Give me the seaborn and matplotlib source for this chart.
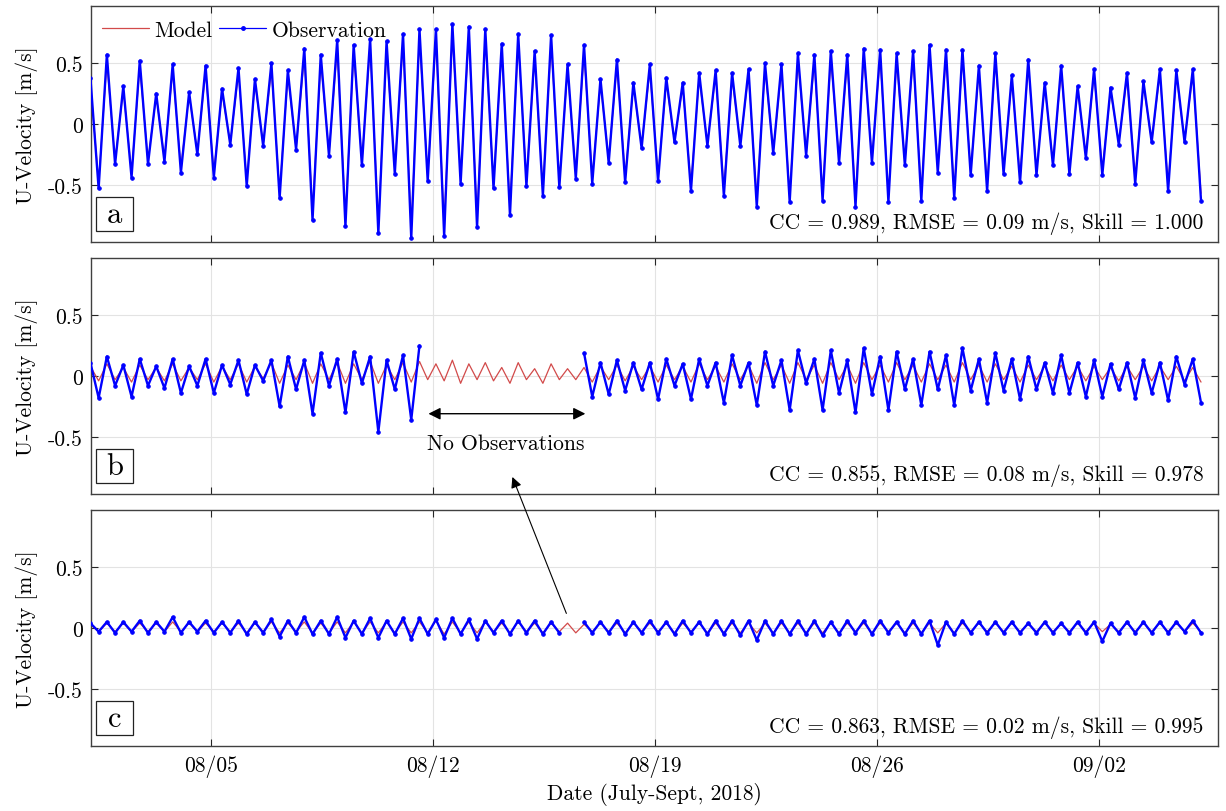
import matplotlib
matplotlib.use('Agg')
import numpy as np
import pandas as pd
import seaborn as sns
import matplotlib.pyplot as plt
import matplotlib.dates as mdates
from matplotlib.lines import Line2D
from matplotlib.patches import Rectangle

# tidal extrema, one value per half tide
# (even index = flood peak, odd index = ebb trough), NaN = no data
t_first = "2018-08-01 04:33"
t_last = "2018-09-05 05:03"
x_start = "2018-08-01 05:00"
x_end = "2018-09-05 17:54"

a_obs = [0.38,
         -0.53, 0.57, -0.33, 0.31, -0.44, 0.52, -0.33, 0.25, -0.31, 0.49,
         -0.40, 0.26, -0.25, 0.48, -0.44, 0.29, -0.17, 0.46, -0.51, 0.37,
         -0.18, 0.50, -0.61, 0.44, -0.21, 0.62, -0.79, 0.57, -0.26, 0.69,
         -0.84, 0.65, -0.34, 0.70,
         -0.90, 0.68, -0.41, 0.74, -0.94, 0.78, -0.47, 0.78, -0.92, 0.82,
         -0.49, 0.80, -0.85, 0.78, -0.53, 0.66, -0.75, 0.74, -0.51, 0.60,
         -0.59, 0.73, -0.52, 0.49, -0.45, 0.65, -0.49, 0.37, -0.32, 0.53,
         -0.48, 0.34, -0.20, 0.49,
         -0.47, 0.38, -0.15, 0.34, -0.55, 0.42, -0.18, 0.44, -0.59, 0.42,
         -0.18, 0.45, -0.68, 0.50, -0.24, 0.49, -0.64, 0.58, -0.26, 0.57,
         -0.63, 0.60, -0.32, 0.57, -0.68, 0.62, -0.32, 0.61, -0.64, 0.58,
         -0.34, 0.60, -0.63, 0.65,
         -0.40, 0.61, -0.61, 0.61, -0.42, 0.48, -0.55, 0.58, -0.41, 0.40,
         -0.48, 0.53, -0.42, 0.34, -0.34, 0.48, -0.41, 0.31, -0.28, 0.45,
         -0.42, 0.30, -0.17, 0.42, -0.49, 0.35, -0.15, 0.45, -0.55, 0.44,
         -0.15, 0.45, -0.63]

a_model = [0.34,
           -0.48, 0.51, -0.30, 0.28, -0.40, 0.47, -0.30, 0.23, -0.28, 0.44,
           -0.36, 0.24, -0.23, 0.43, -0.40, 0.26, -0.16, 0.42, -0.47, 0.34,
           -0.17, 0.45, -0.56, 0.40, -0.20, 0.56, -0.72, 0.52, -0.24, 0.62,
           -0.76, 0.59, -0.31, 0.63,
           -0.81, 0.61, -0.37, 0.67, -0.85, 0.70, -0.43, 0.70, -0.83, 0.74,
           -0.44, 0.72, -0.77, 0.70, -0.48, 0.60, -0.68, 0.67, -0.46, 0.54,
           -0.53, 0.66, -0.47, 0.44, -0.41, 0.59, -0.44, 0.33, -0.29, 0.48,
           -0.43, 0.31, -0.18, 0.44,
           -0.43, 0.34, -0.14, 0.31, -0.50, 0.38, -0.16, 0.40, -0.53, 0.38,
           -0.16, 0.41, -0.61, 0.45, -0.22, 0.44, -0.58, 0.52, -0.23, 0.51,
           -0.57, 0.54, -0.29, 0.51, -0.61, 0.56, -0.29, 0.55, -0.58, 0.52,
           -0.31, 0.54, -0.57, 0.59,
           -0.36, 0.55, -0.55, 0.55, -0.38, 0.43, -0.50, 0.52, -0.37, 0.36,
           -0.43, 0.48, -0.38, 0.31, -0.31, 0.43, -0.37, 0.28, -0.25, 0.41,
           -0.38, 0.27, -0.15, 0.38, -0.44, 0.32, -0.14, 0.41, -0.50, 0.40,
           -0.14, 0.41, -0.57]

nan = np.nan
b_obs = [0.11, -0.18, 0.16, -0.08, 0.09, -0.17, 0.14, -0.08, 0.08, -0.10,
         0.14, -0.14, 0.08, -0.08, 0.14, -0.14, 0.09, -0.07, 0.13, -0.15,
         0.09, -0.04, 0.13, -0.25, 0.16, -0.11, 0.13, -0.31, 0.19, -0.08,
         0.14, -0.30, 0.20, -0.06, 0.16, -0.46, 0.13, -0.11, 0.17, -0.36,
         0.25, nan, nan, nan, nan, nan, nan, nan, nan, nan,
         nan, nan, nan, nan, nan, nan, nan, nan, nan, nan,
         0.19, -0.17, 0.11, -0.15, 0.13, -0.12, 0.11, -0.11, 0.11, -0.19,
         0.14, -0.08, 0.10, -0.19, 0.14, -0.08, 0.11, -0.22, 0.17, -0.08,
         0.11, -0.24, 0.20, -0.08, 0.13, -0.28, 0.21, -0.06, 0.14, -0.28,
         0.21, -0.14, 0.13, -0.30, 0.23, -0.15, 0.16, -0.28, 0.20, -0.11,
         0.14, -0.24, 0.20, -0.11, 0.17, -0.24, 0.23, -0.12, 0.14, -0.22,
         0.19, -0.12, 0.14, -0.19, 0.16, -0.11, 0.11, -0.14, 0.17, -0.14,
         0.11, -0.17, 0.13, -0.17, 0.10, -0.11, 0.11, -0.18, 0.13, -0.14,
         0.11, -0.20, 0.16, -0.07, 0.14, -0.22]

b_model = [0.08, -0.04, 0.10, -0.03, 0.07, -0.05, 0.09, -0.03, 0.07, -0.04,
           0.10, -0.04, 0.07, -0.03, 0.10, -0.05, 0.08, -0.03, 0.10, -0.05,
           0.08, -0.02, 0.11, -0.06, 0.09, -0.03, 0.11, -0.06, 0.10, -0.03,
           0.11, -0.06, 0.10, -0.03, 0.12, -0.06, 0.09, -0.03, 0.11, -0.05,
           0.12, -0.03, 0.10, -0.04, 0.13, -0.06, 0.10, -0.03, 0.11, -0.04,
           0.07, -0.06, 0.11, -0.03, 0.06, -0.06, 0.10, -0.03, 0.06, -0.03,
           0.07, -0.05, 0.08, -0.03, 0.09, -0.04, 0.08, -0.03, 0.08, -0.05,
           0.09, -0.03, 0.08, -0.05, 0.10, -0.03, 0.08, -0.05, 0.10, -0.03,
           0.09, -0.06, 0.11, -0.03, 0.09, -0.06, 0.11, -0.03, 0.09, -0.06,
           0.11, -0.03, 0.09, -0.06, 0.11, -0.03, 0.09, -0.05, 0.11, -0.03,
           0.09, -0.05, 0.10, -0.03, 0.09, -0.05, 0.11, -0.03, 0.09, -0.05,
           0.10, -0.03, 0.08, -0.05, 0.09, -0.03, 0.08, -0.04, 0.09, -0.03,
           0.08, -0.04, 0.08, -0.03, 0.07, -0.04, 0.08, -0.03, 0.08, -0.04,
           0.08, -0.03, 0.08, -0.04, 0.07, -0.05]

c_obs = [0.04, -0.03, 0.05, -0.04, 0.05, -0.03, 0.06, -0.04, 0.05, -0.03,
         0.09, -0.04, 0.05, -0.03, 0.06, -0.04, 0.05, -0.04, 0.06, -0.05,
         0.05, -0.04, 0.07, -0.07, 0.06, -0.04, 0.09, -0.05, 0.06, -0.05,
         0.09, -0.08, 0.06, -0.05, 0.08, -0.08, 0.06, -0.05, 0.08, -0.09,
         0.08, -0.05, 0.07, -0.08, 0.08, -0.05, 0.07, -0.09, 0.06, -0.04,
         0.06, -0.05, 0.06, -0.04, 0.06, -0.05, 0.05, -0.04, nan, nan,
         0.05, -0.04, 0.05, -0.04, 0.06, -0.05, 0.05, -0.04, 0.06, -0.04,
         0.05, -0.05, 0.06, -0.04, 0.05, -0.05, 0.06, -0.05, 0.06, -0.06,
         0.06, -0.10, 0.06, -0.05, 0.06, -0.05, 0.06, -0.05, 0.06, -0.06,
         0.05, -0.05, 0.06, -0.04, 0.06, -0.05, 0.06, -0.04, 0.05, -0.05,
         0.06, -0.05, 0.06, -0.14, 0.05, -0.05, 0.06, -0.04, 0.05, -0.04,
         0.05, -0.04, 0.05, -0.04, 0.04, -0.04, 0.05, -0.04, 0.04, -0.04,
         0.05, -0.04, 0.05, -0.11, 0.04, -0.04, 0.05, -0.04, 0.05, -0.04,
         0.05, -0.04, 0.05, -0.03, 0.06, -0.04]

c_model = [0.03, -0.03, 0.04, -0.03, 0.04, -0.03, 0.04, -0.03, 0.04, -0.03,
           0.05, -0.03, 0.04, -0.03, 0.04, -0.03, 0.04, -0.03, 0.04, -0.04,
           0.04, -0.03, 0.05, -0.04, 0.04, -0.03, 0.05, -0.04, 0.04, -0.04,
           0.05, -0.04, 0.05, -0.04, 0.05, -0.04, 0.05, -0.04, 0.05, -0.04,
           0.05, -0.04, 0.06, -0.05, 0.05, -0.04, 0.05, -0.04, 0.05, -0.03,
           0.04, -0.04, 0.05, -0.03, 0.04, -0.04, 0.04, -0.03, 0.04, -0.04,
           0.03, -0.03, 0.04, -0.03, 0.04, -0.04, 0.04, -0.03, 0.04, -0.03,
           0.04, -0.04, 0.04, -0.03, 0.04, -0.04, 0.04, -0.04, 0.04, -0.04,
           0.04, -0.04, 0.04, -0.04, 0.04, -0.04, 0.04, -0.04, 0.04, -0.04,
           0.04, -0.04, 0.04, -0.03, 0.04, -0.04, 0.04, -0.03, 0.04, -0.04,
           0.04, -0.04, 0.04, -0.04, 0.04, -0.04, 0.04, -0.03, 0.04, -0.03,
           0.04, -0.03, 0.04, -0.03, 0.03, -0.03, 0.04, -0.03, 0.03, -0.03,
           0.04, -0.03, 0.04, -0.03, 0.03, -0.03, 0.04, -0.03, 0.04, -0.03,
           0.04, -0.03, 0.04, -0.03, 0.04, -0.03]

date_ticks = ["2018-08-05", "2018-08-12", "2018-08-19", "2018-08-26", "2018-09-02"]
date_labels = ["08/05", "08/12", "08/19", "08/26", "09/02"]
u_ticks = [-0.5, 0, 0.5]
u_labels = ["-0.5", "0", "0.5"]
stats = ["CC = 0.989, RMSE = 0.09 m/s, Skill = 1.000",
         "CC = 0.855, RMSE = 0.08 m/s, Skill = 0.978",
         "CC = 0.863, RMSE = 0.02 m/s, Skill = 0.995"]
tags = ["a", "b", "c"]

# gap annotation (panel b)
gap_from, gap_to = "2018-08-11 20:21", "2018-08-16 19:08"
gap_text_at = "2018-08-14 06:36"
pointer_tip, pointer_tail = "2018-08-14 11:54", "2018-08-16 04:45"

MODEL_C = "#d24a4a"
OBS_C = "#0000ff"
FS = 15.5


def frame(vals):
    t = pd.date_range(t_first, t_last, periods=len(vals))
    df = pd.DataFrame({"time": t, "u": vals})
    df["seg"] = df["u"].isna().cumsum()
    return df.dropna()


sns.set_style("ticks")
plt.rcParams['font.family'] = ['cmr10', 'DejaVu Serif']
plt.rcParams['mathtext.fontset'] = 'cm'
plt.rcParams['axes.unicode_minus'] = False
plt.rcParams['text.color'] = 'black'
plt.rcParams['axes.labelcolor'] = 'black'

fig = plt.figure(figsize=(12.26, 8.12), dpi=100)
left, width, height = 91 / 1226, 1127 / 1226, 236 / 812
bottoms = [1 - 243 / 812, 1 - 495 / 812, 1 - 747 / 812]
panels = [(a_obs, a_model), (b_obs, b_model), (c_obs, c_model)]
axes = []

for i, (obs, model) in enumerate(panels):
    ax = fig.add_axes([left, bottoms[i], width, height])
    axes.append(ax)
    sns.lineplot(data=frame(model), x="time", y="u", units="seg", estimator=None,
                 color=MODEL_C, lw=0.9, ax=ax, legend=False, zorder=2)
    sns.lineplot(data=frame(obs), x="time", y="u", units="seg", estimator=None,
                 color=OBS_C, lw=1.7, marker='.', ms=5, mec=OBS_C, mfc=OBS_C,
                 ax=ax, legend=False, zorder=3)
    ax.set_xlim(pd.Timestamp(x_start), pd.Timestamp(x_end))
    ax.set_ylim(-0.97, 0.97)
    ax.set_xticks([pd.Timestamp(d) for d in date_ticks])
    if i == 2:
        ax.set_xticklabels(date_labels, fontsize=FS)
        ax.set_xlabel("Date (July-Sept, 2018)", fontsize=FS, labelpad=4,
                      color="black")
    else:
        ax.set_xticklabels([])
        ax.set_xlabel("")
    ax.set_yticks(u_ticks)
    ax.set_yticklabels(u_labels, fontsize=FS)
    ax.set_ylabel("U-Velocity [m/s]", fontsize=FS, labelpad=7, color="black")
    ax.grid(True, color="#e3e3e3", lw=0.8)
    ax.set_axisbelow(True)
    ax.tick_params(direction="in", top=True, right=True, length=5, width=0.8,
                   pad=6, color="#262626", labelcolor="black")
    for s in ax.spines.values():
        s.set_color("#404040")
        s.set_linewidth(1.0)
    ax.text(0.987, 0.08, stats[i], transform=ax.transAxes, ha="right",
            va="center", fontsize=FS)
    ax.add_patch(Rectangle((0.0044, 0.047), 0.0328, 0.144, transform=ax.transAxes,
                           fc="white", ec="#222222", lw=0.9, zorder=5))
    ax.text(0.0209, 0.118, tags[i], transform=ax.transAxes, ha="center",
            va="center", fontsize=22, zorder=6)

ax_a, ax_b, ax_c = axes
handles = [Line2D([], [], color=MODEL_C, lw=0.9),
           Line2D([], [], color=OBS_C, lw=0.9, marker='.', ms=5)]
ax_a.legend(handles, ["Model", "Observation"], loc="upper left", ncol=2,
            frameon=False, fontsize=FS, handlelength=2.2, handletextpad=0.25,
            columnspacing=0.3, borderaxespad=0.1, bbox_to_anchor=(0.0, 0.985))

num = lambda s: mdates.date2num(pd.Timestamp(s))
ax_b.annotate("", xy=(num(gap_to), -0.31), xytext=(num(gap_from), -0.31),
              arrowprops=dict(arrowstyle="<|-|>", color="k", lw=1.0,
                              mutation_scale=18, shrinkA=0, shrinkB=0))
ax_b.text(num(gap_text_at), -0.55, "No Observations", ha="center", va="center",
          fontsize=FS)
ax_c.annotate("", xy=(num(pointer_tip), -0.83), xycoords=ax_b.transData,
              xytext=(num(pointer_tail), 0.12), textcoords="data",
              arrowprops=dict(arrowstyle="-|>", color="k", lw=0.8,
                              mutation_scale=16, shrinkA=0, shrinkB=0),
              annotation_clip=False)

fig.savefig("out.png", dpi=100)
